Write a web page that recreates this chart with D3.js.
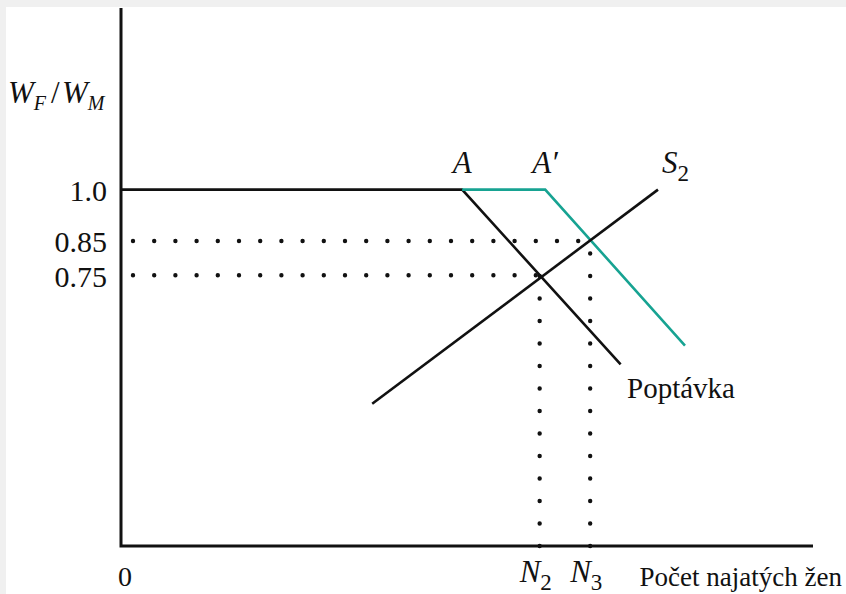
<!DOCTYPE html>
<html>
<head>
<meta charset="utf-8">
<script src="https://cdn.jsdelivr.net/npm/d3@7/dist/d3.min.js"></script>
<style>
  html, body { margin: 0; padding: 0; background: #f0f0f0; }
  svg { display: block; }
</style>
</head>
<body>
<svg id="chart" width="846" height="594"></svg>
<script>
// Relative wage of women (W_F / W_M) versus number of women hired
const wageLevels = [1.0, 0.85, 0.75];
const tickLabels = ["1.0", "0.85", "0.75"];

// Original demand: flat at 1.0 up to A, then falling ("Poptávka")
const demand = [
  { x: 0, y: 1.0 },
  { x: 49.3, y: 1.0 },
  { x: 72.2, y: 0.49 }
];
// Shifted demand: from A to A', then falling
const demandShifted = [
  { x: 49.3, y: 1.0 },
  { x: 61.3, y: 1.0 },
  { x: 81.5, y: 0.545 }
];
// Supply S2
const supply = [
  { x: 36.3, y: 0.375 },
  { x: 77.6, y: 1.0 }
];
// Equilibria: employment levels N2, N3 at wages 0.75, 0.85
const equilibria = [
  { name: "N", sub: "2", x: 60.5, y: 0.75 },
  { name: "N", sub: "3", x: 67.8, y: 0.85 }
];

const SERIF = "'Liberation Serif', 'Times New Roman', Tinos, 'DejaVu Serif', 'Noto Serif', serif";

const svg = d3.select("#chart");
const W = 846, H = 594;

// page background with white drawing sheet
svg.append("rect").attr("x", 6).attr("y", 7).attr("width", W - 6).attr("height", H - 7).attr("fill", "#fff");

const x0 = 121, x1 = 813, yBase = 546, yTop = 8;
const x = d3.scaleLinear().domain([0, 100]).range([x0, x1]);
const y = d3.scaleLinear().domain([-0.04, 1.53]).range([yBase, yTop]);

const line = d3.line().x(d => x(d.x)).y(d => y(d.y));

// dotted guides
equilibria.forEach(e => {
  svg.append("line")
    .attr("x1", x0 + 12).attr("x2", x(e.x))
    .attr("y1", y(e.y)).attr("y2", y(e.y))
    .attr("stroke", "#111").attr("stroke-width", 4.4)
    .attr("stroke-linecap", "round")
    .attr("stroke-dasharray", "0 21.2");
  svg.append("line")
    .attr("x1", x(e.x)).attr("x2", x(e.x))
    .attr("y1", yBase).attr("y2", y(e.y))
    .attr("stroke", "#111").attr("stroke-width", 4.4)
    .attr("stroke-linecap", "round")
    .attr("stroke-dasharray", "0 22.5");
});

// curves
svg.append("path").datum(demand).attr("d", line)
  .attr("fill", "none").attr("stroke", "#111").attr("stroke-width", 2.6);
svg.append("path").datum(demandShifted).attr("d", line)
  .attr("fill", "none").attr("stroke", "#17a392").attr("stroke-width", 2.6);
svg.append("path").datum(supply).attr("d", line)
  .attr("fill", "none").attr("stroke", "#111").attr("stroke-width", 2.6);

// axes frame
svg.append("path")
  .attr("d", `M${x0},${yTop}V${yBase}H${x1}`)
  .attr("fill", "none").attr("stroke", "#111").attr("stroke-width", 3);

// y tick labels
const yAxis = d3.axisLeft(y).tickValues(wageLevels)
  .tickFormat((d, i) => tickLabels[i]).tickSize(0).tickPadding(14);
const gy = svg.append("g").attr("transform", `translate(${x0},0)`).call(yAxis)
  .attr("font-family", SERIF).attr("font-size", 30);
gy.select(".domain").remove();
gy.selectAll("text").attr("fill", "#111").attr("dy", "0.36em");

function txt(xp, yp, size, italic) {
  return svg.append("text").attr("x", xp).attr("y", yp)
    .attr("font-family", SERIF).attr("font-size", size)
    .attr("font-style", italic ? "italic" : "normal").attr("fill", "#111");
}

// origin
txt(125, 586, 28).attr("text-anchor", "middle").text("0");

// y axis title W_F / W_M
const yt = txt(8, 103, 31, true);
yt.append("tspan").text("W");
yt.append("tspan").attr("dy", 7).attr("font-size", 20).text("F");
yt.append("tspan").attr("dy", -7).attr("x", 51).attr("font-style", "normal").text("/");
yt.append("tspan").attr("x", 62).text("W");
yt.append("tspan").attr("dy", 7).attr("font-size", 20).text("M");

// point labels
txt(x(demand[1].x), 173, 31, true).attr("text-anchor", "middle").text("A");
txt(x(demandShifted[1].x) - 13, 173, 31, true).text("A\u2032");
const s2 = txt(662, 173, 31, true);
s2.append("tspan").text("S");
s2.append("tspan").attr("dy", 8).attr("font-size", 23).attr("font-style", "normal").text("2");

// equilibrium employment labels
equilibria.forEach(e => {
  const t = txt(x(e.x) - 20, 582, 31, true);
  t.append("tspan").text(e.name);
  t.append("tspan").attr("dy", 8).attr("font-size", 23).attr("font-style", "normal").text(e.sub);
});

// curve and axis names
txt(627, 398, 29).text("Poptávka");
txt(842, 586, 27).attr("text-anchor", "end").text("Počet najatých žen");
</script>
</body>
</html>
